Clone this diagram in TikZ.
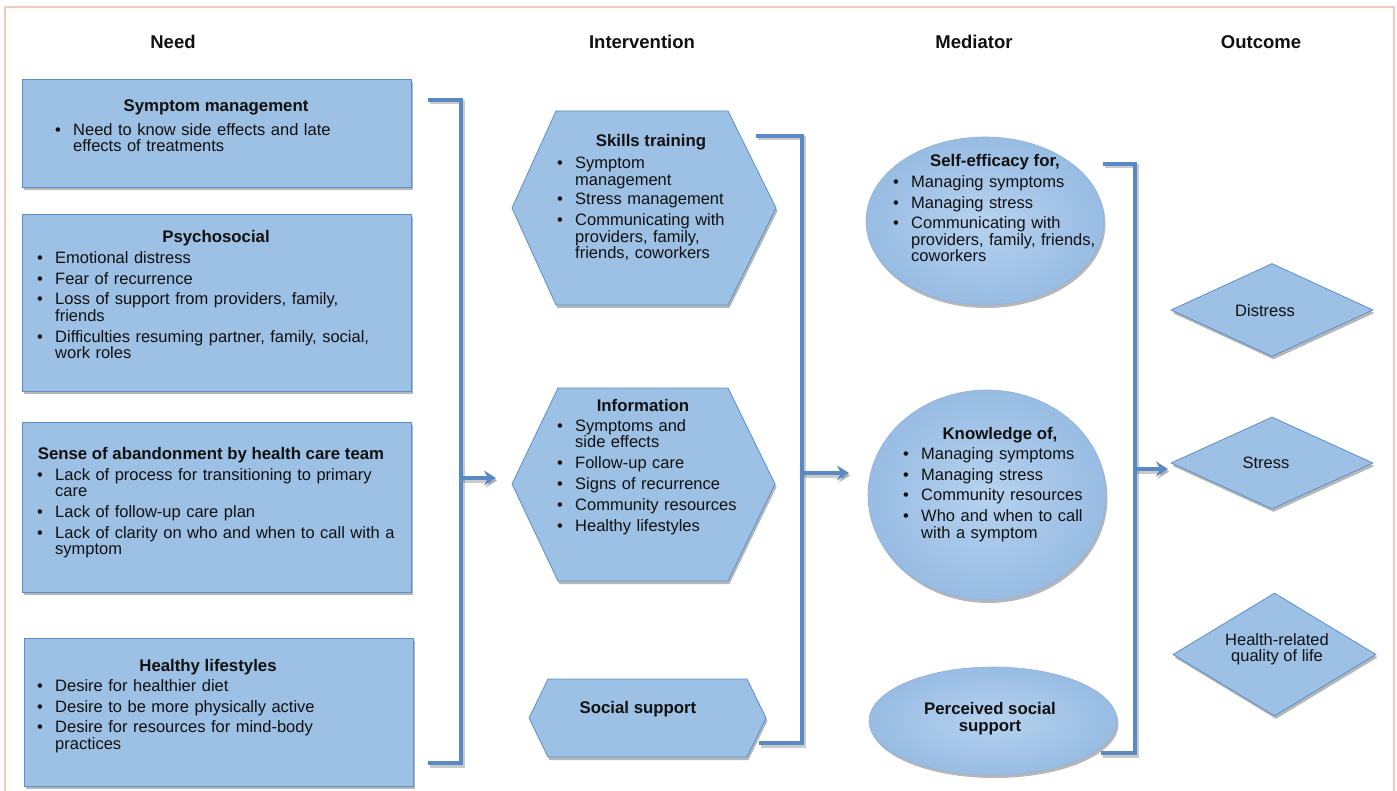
\documentclass[tikz,border=0pt]{standalone}
\usepackage{fontspec}
\setmainfont{Liberation Sans}
\usetikzlibrary{shapes.geometric,shadows,arrows.meta}
\definecolor{boxfill}{HTML}{9DC0E5}
\definecolor{boxedge}{HTML}{5B8FCB}
\definecolor{brk}{HTML}{5A8AC6}
\definecolor{framec}{HTML}{F2CABB}
\definecolor{txt}{HTML}{111111}
\definecolor{ovalin}{HTML}{B6D2EF}
\definecolor{ovalout}{HTML}{98BCE3}
\definecolor{ovaledge}{HTML}{8FB3DC}
\newcommand\bitem[1]{\noindent\makebox[18pt][l]{\textbullet}\parbox[t]{\dimexpr\hsize-18pt\relax}{\raggedright #1\strut}\par\prevdepth=\dp\strutbox\vskip 3pt\relax}
\tikzset{
  hdr/.style={font=\fontsize{18.5}{21}\selectfont\bfseries, anchor=base, inner sep=0pt, text=txt},
  ttl/.style={font=\fontsize{16.8}{17}\selectfont\bfseries, anchor=base, inner sep=0pt, text=txt},
  blk/.style={font=\fontsize{16.5}{16.5}\selectfont, anchor=north west, inner sep=0pt,
    text width=#1, align=left, text=txt, execute at begin node={\setlength{\parskip}{0pt}}},
  lbl/.style={font=\fontsize{16.5}{15.5}\selectfont, align=center, inner sep=0pt, text=txt},
  shd/.style={drop shadow={shadow xshift=1.5pt, shadow yshift=-3pt, opacity=0.4, fill=black!70}},
  needbox/.style={rectangle, draw=boxedge, line width=0.8pt, fill=boxfill, inner sep=0pt, shd},
  hexa/.style={draw=boxedge, line width=0.8pt, fill=boxfill, line join=miter, shd},
  oval/.style={ellipse, draw=ovaledge, line width=0.6pt, inner color=ovalin, outer color=ovalout, inner sep=0pt, shd},
  dia/.style={diamond, draw=boxedge, line width=0.8pt, fill=boxfill, inner sep=0pt, shd},
  brkt/.style={draw=brk, line width=4pt, line join=miter,
    preaction={draw=black!60, opacity=0.35, line width=4pt, transform canvas={shift={(1.5pt,-2.5pt)}}}},
  arr/.style={-{Stealth[length=12pt,width=15pt,inset=4pt]}}
}
\begin{document}
\begin{tikzpicture}[x=1pt,y=-1pt]
\useasboundingbox (0,0) rectangle (1397,791);
% outer frame
\draw[framec, line width=2pt] (5,800) -- (5,7) -- (1394,7) -- (1394,800);

% headers
\node[hdr] (hneed) at (173,49) {Need};
\node[hdr] (hint) at (642,49) {Intervention};
\node[hdr] (hmed) at (974,49) {Mediator};
\node[hdr] (hout) at (1261,49) {Outcome};

% Need boxes
\node[needbox, minimum width=389pt, minimum height=108pt] (n1) at (216.5,133) {};
\node[needbox, minimum width=389pt, minimum height=177pt] (n2) at (216.5,302.5) {};
\node[needbox, minimum width=389pt, minimum height=170pt] (n3) at (216.5,507) {};
\node[needbox, minimum width=389pt, minimum height=148pt] (n4) at (218.5,712) {};

\node[ttl] (t1) at (216,112) {Symptom management};
\node[blk=340pt] (c1) at (55,123) {\bitem{Need to know side effects and late\\effects of treatments}};

\node[ttl] (t2) at (216,243) {Psychosocial};
\node[blk=372pt] (c2) at (37,251) {\bitem{Emotional distress}\bitem{Fear of recurrence}\bitem{Loss of support from providers, family,\\friends}\bitem{Difficulties resuming partner, family, social,\\work roles}};

\node[ttl] (t3) at (211,459) {Sense of abandonment by health care team};
\node[blk=372pt] (c3) at (37,468) {\bitem{Lack of process for transitioning to primary\\care}\bitem{Lack of follow-up care plan}\bitem{Lack of clarity on who and when to call with a\\symptom}};

\node[ttl] (t4) at (208,671) {Healthy lifestyles};
\node[blk=372pt] (c4) at (37,679) {\bitem{Desire for healthier diet}\bitem{Desire to be more physically active}\bitem{Desire for resources for mind-body\\practices}};

% Intervention hexagons
\draw[hexa] (512,208) -- (556,111) -- (728,111) -- (776,208) -- (728,305) -- (556,305) -- cycle;
\coordinate (i1) at (644,208);
\draw[hexa] (512,484) -- (558,388) -- (728,388) -- (775,484) -- (728,581) -- (558,581) -- cycle;
\coordinate (i2) at (644,484);
\draw[hexa] (529,718) -- (548,679) -- (747,679) -- (766,718) -- (747,757) -- (548,757) -- cycle;
\coordinate (i3) at (647,718);

\node[ttl] (t5) at (651,147) {Skills training};
\node[blk=212pt] (c5) at (557,157) {\bitem{Symptom\\management}\bitem{Stress management}\bitem{Communicating with\\providers, family,\\friends, coworkers}};

\node[ttl] (t6) at (643,411) {Information};
\node[blk=212pt] (c6) at (557,419) {\bitem{Symptoms and\\side effects}\bitem{Follow-up care}\bitem{Signs of recurrence}\bitem{Community resources}\bitem{Healthy lifestyles}};

\node[ttl] (t7) at (638,713) {Social support};

% Mediator ovals
\node[oval, minimum width=238pt, minimum height=168pt] (m1) at (985,221) {};
\node[oval, minimum width=238pt, minimum height=210pt] (m2) at (987,495) {};
\node[oval, minimum width=248pt, minimum height=108pt] (m3) at (993,721) {};

\node[ttl] (t8) at (995,167) {Self-efficacy for,};
\node[blk=222pt] (c8) at (893,175) {\bitem{Managing symptoms}\bitem{Managing stress}\bitem{Communicating with\\providers, family, friends,\\coworkers}};

\node[ttl] (t9) at (1000,439) {Knowledge of,};
\node[blk=200pt] (c9) at (903,447) {\bitem{Managing symptoms}\bitem{Managing stress}\bitem{Community resources}\bitem{Who and when to call\\with a symptom}};

\node[lbl, font=\fontsize{16.8}{17}\selectfont\bfseries] (t10) at (990,719) {Perceived social\\support};

% Outcome diamonds
\node[dia, minimum width=202pt, minimum height=93pt] (o1) at (1272,310) {};
\node[dia, minimum width=202pt, minimum height=92pt] (o2) at (1272,463) {};
\node[dia, minimum width=203pt, minimum height=123pt] (o3) at (1274.5,654.5) {};
\node[lbl] (l1) at (1265,311) {Distress};
\node[lbl] (l2) at (1266,463) {Stress};
\node[lbl] (l3) at (1277,649) {Health-related\\quality of life};

% brackets
\coordinate (b1a) at (428,100);
\coordinate (b1b) at (461,100);
\coordinate (b1c) at (461,763);
\coordinate (b1d) at (428,763);
\coordinate (b1m) at (461,478);
\coordinate (b1e) at (496,478);
\draw[brkt] (b1a) -- (b1b) -- (b1c) -- (b1d);
\draw[brkt, arr] (b1m) -- (b1e);

\coordinate (b2a) at (756,136);
\coordinate (b2b) at (802,136);
\coordinate (b2c) at (802,743);
\coordinate (b2d) at (759,743);
\coordinate (b2m) at (802,473);
\coordinate (b2e) at (849,473);
\draw[brkt] (b2a) -- (b2b) -- (b2c) -- (b2d);
\draw[brkt, arr] (b2m) -- (b2e);

\coordinate (b3a) at (1103,164);
\coordinate (b3b) at (1135,164);
\coordinate (b3c) at (1135,753);
\coordinate (b3d) at (1101,753);
\coordinate (b3m) at (1135,469);
\coordinate (b3e) at (1168,469);
\draw[brkt] (b3a) -- (b3b) -- (b3c) -- (b3d);
\draw[brkt, arr] (b3m) -- (b3e);
\end{tikzpicture}
\end{document}
